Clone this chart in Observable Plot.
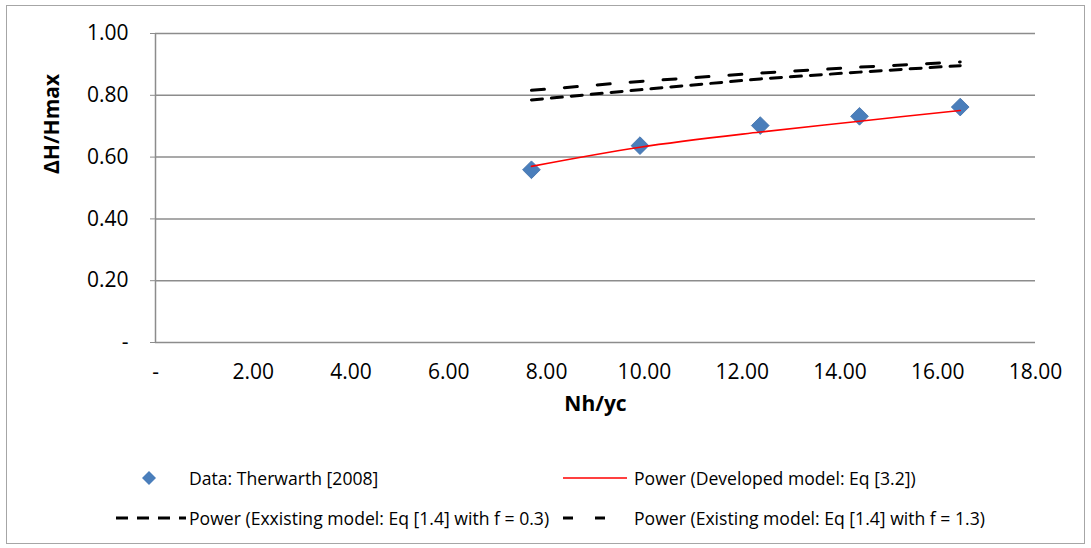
<!DOCTYPE html>
<html>
<head>
<meta charset="utf-8">
<script src="https://cdn.jsdelivr.net/npm/d3@7"></script>
<script src="https://cdn.jsdelivr.net/npm/@observablehq/plot@0.6"></script>
<style>
  html, body { margin: 0; padding: 0; background: #fff; }
  #wrap { position: relative; width: 1091px; height: 548px; overflow: hidden; font-family: "Open Sans", sans-serif; color: #000; }
  #frame { position: absolute; left: 6px; top: 5px; width: 1079px; height: 539px; border: 1.5px solid #a6a6a6; box-sizing: border-box; }
  #plot { position: absolute; left: 0; top: 0; }
  .leg { position: absolute; font-size: 17.6px; line-height: 20px; white-space: nowrap; }
  .sw { position: absolute; }
</style>
</head>
<body>
<div id="wrap">
  <div id="frame"></div>
  <div id="plot"></div>
  <div id="legend"></div>
</div>
<script>
// ---- data ----
const xTicks = [0, 2, 4, 6, 8, 10, 12, 14, 16, 18];
const yTicks = [0, 0.2, 0.4, 0.6, 0.8, 1.0];

const nhyc = [7.69, 9.91, 12.37, 14.40, 16.46];
const measured = [0.559, 0.637, 0.702, 0.732, 0.762];       // Data: Therwarth [2008]
const developed = [0.570, 0.632, 0.681, 0.716, 0.751];      // Power (Developed model: Eq [3.2])
const existingF03 = [0.785, 0.818, 0.853, 0.875, 0.896];    // Power (Exxisting model ... f = 0.3)
const existingF13 = [0.816, 0.845, 0.872, 0.891, 0.908];    // Power (Existing model ... f = 1.3)

const legendLabels = [
  "Data: Therwarth [2008]",
  "Power (Developed model: Eq [3.2])",
  "Power (Exxisting model: Eq [1.4] with f = 0.3)",
  "Power (Existing model: Eq [1.4] with f = 1.3)"
];

const fmt = v => v === 0 ? "-" : v.toFixed(2);
const table = arr => nhyc.map((x, i) => ({x, y: arr[i]}));

const blue = "#4a7ebb";
const grid = "#8c8c8c";

const chart = Plot.plot({
  width: 1091,
  height: 440,
  marginLeft: 155,
  marginRight: 56,
  marginTop: 33,
  marginBottom: 98,
  style: { fontFamily: "Open Sans", fontSize: "21px", color: "#000", background: "transparent" },
  x: { domain: [0, 18] },
  y: { domain: [0, 1] },
  marks: [
    Plot.ruleY(yTicks, { stroke: grid, strokeWidth: 1.5 }),
    Plot.ruleX([0], { stroke: grid, strokeWidth: 1.5 }),
    Plot.axisY(yTicks, { tickSize: 5, tickPadding: 22, tickFormat: fmt, stroke: grid, label: null, fontSize: 21 }),
    Plot.axisX(xTicks, { tickSize: 0, tickPadding: 22, tickFormat: fmt, label: null, fontSize: 21 }),
    Plot.line(table(existingF03), { x: "x", y: "y", stroke: "#000", strokeWidth: 3, strokeDasharray: "11,9" }),
    Plot.line(table(existingF13), { x: "x", y: "y", stroke: "#000", strokeWidth: 3, strokeDasharray: "13,20" }),
    Plot.dot(table(measured), { x: "x", y: "y", symbol: "diamond2", r: 8, fill: blue, stroke: "#3f6fa8", strokeWidth: 0.8 }),
    Plot.line(table(developed), { x: "x", y: "y", stroke: "#ff0000", strokeWidth: 1.6, curve: "catmull-rom" }),
    Plot.text(["Nh/yc"], { frameAnchor: "bottom", dy: 68, fontWeight: "bold", fontSize: 21 }),
    Plot.text(["ΔH/Hmax"], { frameAnchor: "left", dx: -103, dy: -14, rotate: -90, fontWeight: "bold", fontSize: 21 })
  ]
});
document.getElementById("plot").appendChild(chart);

// ---- legend (HTML) ----
const legend = document.getElementById("legend");
function add(html) { legend.insertAdjacentHTML("beforeend", html); }
// row 1
add(`<svg class="sw" style="left:141px;top:470px" width="16" height="16"><path d="M8,1 L15,8 L8,15 L1,8Z" fill="${blue}"/></svg>`);
add(`<div class="leg" style="left:189px;top:468px">${legendLabels[0]}</div>`);
add(`<svg class="sw" style="left:563px;top:470px" width="64" height="16"><line x1="0" x2="64" y1="8" y2="8" stroke="#ff0000" stroke-width="1.5"/></svg>`);
add(`<div class="leg" style="left:634px;top:468px">${legendLabels[1]}</div>`);
// row 2
add(`<svg class="sw" style="left:116px;top:510px" width="70" height="16"><line x1="0" x2="70" y1="8" y2="8" stroke="#000" stroke-width="3" stroke-dasharray="12,9"/></svg>`);
add(`<div class="leg" style="left:189px;top:508px">${legendLabels[2]}</div>`);
add(`<svg class="sw" style="left:563px;top:510px" width="64" height="16"><line x1="0" x2="64" y1="8" y2="8" stroke="#000" stroke-width="3" stroke-dasharray="10,22"/></svg>`);
add(`<div class="leg" style="left:634px;top:508px">${legendLabels[3]}</div>`);
</script>
</body>
</html>
